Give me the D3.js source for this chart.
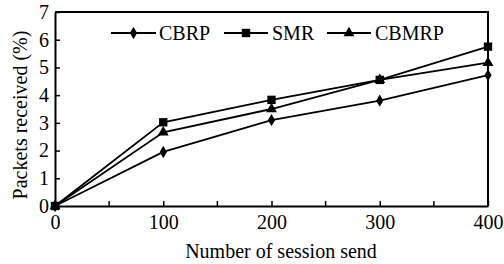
<!DOCTYPE html>
<html>
<head>
<meta charset="utf-8">
<script src="https://cdn.jsdelivr.net/npm/d3@7"></script>
<style>
  html, body { margin: 0; padding: 0; background: #fff; }
  svg { display: block; font-family: "Liberation Serif", "Times New Roman", serif; }
</style>
</head>
<body>
<svg id="chart" width="504" height="264"></svg>
<script>
const sessions = [0, 100, 200, 300, 400]
const cbrp = [0, 1.95, 3.1, 3.8, 4.72]
const smr = [0, 3.02, 3.83, 4.55, 5.75]
const cbmrp = [0, 2.66, 3.5, 4.55, 5.17]
const seriesNames = ['CBRP', 'SMR', 'CBMRP']
const xTicks = [0, 100, 200, 300, 400]
const xMinorTicks = [50, 150, 250, 350]
const yTicks = [0, 1, 2, 3, 4, 5, 6, 7]

const PLOT = { left: 55, right: 488, top: 12, bottom: 206 }
const FONT = 20

const svg = d3.select('#chart')

const x = d3.scaleLinear().domain([0, 400]).range([PLOT.left, PLOT.right])
const y = d3.scaleLinear().domain([0, 7]).range([PLOT.bottom, PLOT.top])

const symbols = {
    CBRP: d3.symbol().type(d3.symbolDiamond).size(44),
    SMR: d3.symbol().type(d3.symbolSquare).size(70),
    CBMRP: d3.symbol().type(d3.symbolTriangle).size(52),
}
const seriesData = { CBRP: cbrp, SMR: smr, CBMRP: cbmrp }

// Frame: top and right sides
svg.append('path')
    .attr('d', `M${PLOT.left},${PLOT.top}H${PLOT.right}V${PLOT.bottom}`)
    .attr('fill', 'none').attr('stroke', '#000').attr('stroke-width', 2)

// X axis (ticks inward)
const xAxis = svg.append('g')
    .attr('transform', `translate(0,${PLOT.bottom})`)
    .call(d3.axisBottom(x).tickValues(xTicks).tickFormat(d3.format('d'))
        .tickSizeInner(-5).tickSizeOuter(0).tickPadding(9))
    .attr('font-family', null).attr('font-size', null)
xAxis.select('.domain').attr('stroke-width', 2)
xAxis.selectAll('.tick line').attr('stroke-width', 1.5)
xAxis.selectAll('text').style('font-size', FONT + 'px').attr('fill', '#000')

svg.append('g')
    .selectAll('line').data(xMinorTicks).enter()
    .append('line')
    .attr('x1', d => x(d)).attr('x2', d => x(d))
    .attr('y1', PLOT.bottom).attr('y2', PLOT.bottom - 5)
    .attr('stroke', '#000').attr('stroke-width', 1.5)

// Y axis (ticks inward)
const yAxis = svg.append('g')
    .attr('transform', `translate(${PLOT.left},0)`)
    .call(d3.axisLeft(y).tickValues(yTicks).tickFormat(d3.format('d'))
        .tickSizeInner(-5).tickSizeOuter(0).tickPadding(6))
    .attr('font-family', null).attr('font-size', null)
yAxis.select('.domain').attr('stroke-width', 2)
yAxis.selectAll('.tick line').attr('stroke-width', 1.5)
yAxis.selectAll('text').style('font-size', FONT + 'px').attr('fill', '#000')

// Axis titles
svg.append('text')
    .attr('x', 281).attr('y', 258)
    .attr('text-anchor', 'middle')
    .style('font-size', FONT + 'px')
    .text('Number of session send')

svg.append('text')
    .attr('transform', `translate(27,115) rotate(-90)`)
    .attr('text-anchor', 'middle')
    .style('font-size', FONT + 'px')
    .text('Packets received (%)')

// Series
const line = d3.line().x((d, i) => x(sessions[i])).y(d => y(d))

seriesNames.forEach(name => {
    const vals = seriesData[name]
    svg.append('path').datum(vals)
        .attr('fill', 'none').attr('stroke', '#000').attr('stroke-width', 1.8)
        .attr('d', line)
    svg.append('g').selectAll('path').data(vals).enter()
        .append('path')
        .attr('transform', (d, i) => `translate(${x(sessions[i])},${y(d)})`)
        .attr('d', symbols[name])
        .attr('fill', '#000')
})

// Legend
const legendY = 33
const legendItems = [
    { name: 'CBRP', x1: 111, x2: 156, tx: 159 },
    { name: 'SMR', x1: 224, x2: 268, tx: 272 },
    { name: 'CBMRP', x1: 327, x2: 371, tx: 375 },
]
const legend = svg.append('g')
legendItems.forEach(it => {
    legend.append('line')
        .attr('x1', it.x1).attr('x2', it.x2)
        .attr('y1', legendY).attr('y2', legendY)
        .attr('stroke', '#000').attr('stroke-width', 1.8)
    legend.append('path')
        .attr('transform', `translate(${(it.x1 + it.x2) / 2},${legendY})`)
        .attr('d', symbols[it.name])
        .attr('fill', '#000')
    legend.append('text')
        .attr('x', it.tx).attr('y', legendY + 7)
        .style('font-size', FONT + 'px')
        .text(it.name)
})
</script>
</body>
</html>
